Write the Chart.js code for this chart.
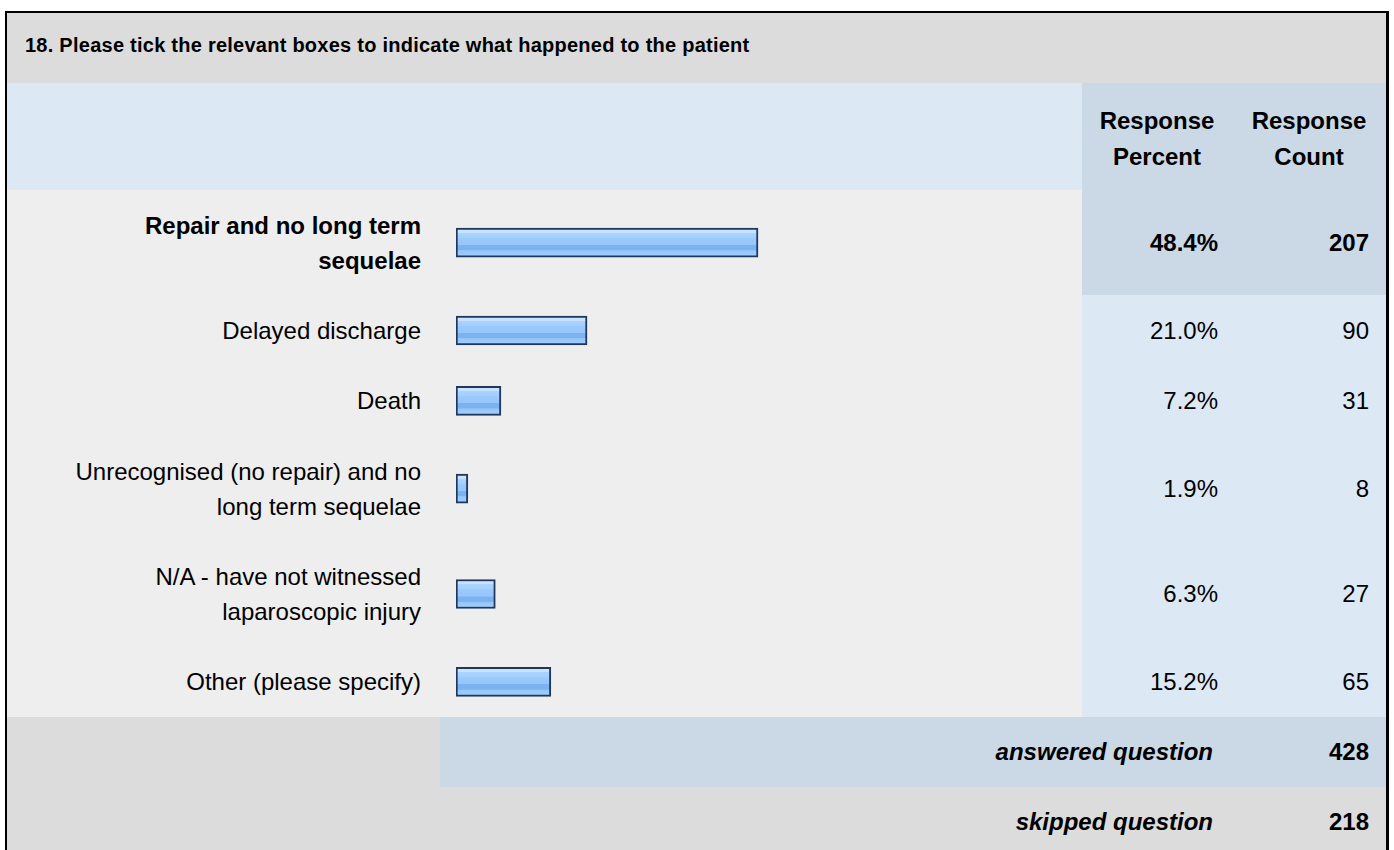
<!DOCTYPE html>
<html>
<head>
<meta charset="utf-8">
<title>18. Please tick the relevant boxes</title>
<script src="https://cdn.jsdelivr.net/npm/chart.js@4.4.1/dist/chart.umd.min.js"></script>
<style>
  html, body { margin: 0; padding: 0; background: #fff; }
  body { width: 1394px; height: 850px; overflow: hidden; font-family: "Liberation Sans", Arial, sans-serif; color: #000; position: relative; }
  #frame { position: absolute; left: 5px; top: 11px; width: 1379px; height: 900px; border: 2px solid #000; border-right-width: 3px; background: #eee; }
  .band { position: absolute; left: 0; width: 1379px; }
  #title { top: 0; height: 70px; background: #dcdcdc; font-weight: bold; font-size: 20px; letter-spacing: 0.25px; line-height: 64px; padding-left: 18px; box-sizing: border-box; }
  .cell { position: absolute; top: 0; height: 100%; box-sizing: border-box; display: flex; align-items: center; font-size: 24px; line-height: 35px; }
  .lbl { left: 0; width: 433px; justify-content: flex-end; text-align: right; padding-right: 19px; }
  .pct { left: 1075px; width: 150px; justify-content: flex-end; text-align: right; padding-right: 14px; }
  .cnt { left: 1225px; width: 154px; justify-content: flex-end; text-align: right; padding-right: 17px; }
  .hd { justify-content: center; text-align: center; padding: 4px 0 0 0; font-weight: bold; line-height: 36px; }
  .blue { background: #dde8f5; }
  .dark { background: #cbd8e6; }
  .grey { background: #dcdcdc; }
  .bold { font-weight: bold; }
  .sum { font-weight: bold; }
  .sum .tot { font-style: italic; left: 433px; width: 792px; padding-right: 19px; justify-content: flex-end; }
  #bars { position: absolute; left: 433px; }
</style>
</head>
<body>
<div id="frame">
  <div id="title" class="band">18. Please tick the relevant boxes to indicate what happened to the patient</div>
  <div id="head" class="band" style="top:70px;height:107px;">
    <div class="cell blue" style="left:0;width:1075px;"></div>
    <div class="cell dark hd" style="left:1075px;width:150px;">Response<br>Percent</div>
    <div class="cell dark hd" style="left:1225px;width:154px;">Response<br>Count</div>
  </div>
  <div id="rows"></div>
  <canvas id="bars"></canvas>
</div>

<script>
// answer options, each one split into its printed lines
const answers = [
  ["Repair and no long term", "sequelae"],
  ["Delayed discharge"],
  ["Death"],
  ["Unrecognised (no repair) and no", "long term sequelae"],
  ["N/A - have not witnessed", "laparoscopic injury"],
  ["Other (please specify)"]
];
const percents = [48.4, 21.0, 7.2, 1.9, 6.3, 15.2];
const counts = [207, 90, 31, 8, 27, 65];
const answered = 428;
const skipped = 218;

const unit = 35.13;         // height of one text line slot
const headBottom = 177;     // top of the first answer row inside the frame

// each row takes one slot per line plus one slot of padding
const spans = answers.map(lines => lines.length + 1);
const totalSlots = spans.reduce((a, b) => a + b, 0);
const mids = [];
let acc = 0;
spans.forEach(s => { mids.push(acc + s / 2); acc += s; });

const topRow = counts.indexOf(Math.max(...counts));
const rowsEl = document.getElementById("rows");
let rowY = headBottom;
answers.forEach((lines, i) => {
  const h = spans[i] * unit;
  const row = document.createElement("div");
  row.className = "band";
  row.style.top = rowY + "px";
  row.style.height = h + "px";
  const hi = i === topRow;
  row.innerHTML =
    '<div class="cell lbl' + (hi ? ' bold' : '') + '">' + lines.join("<br>") + '</div>' +
    '<div class="cell pct ' + (hi ? 'dark bold' : 'blue') + '">' + percents[i].toFixed(1) + '%</div>' +
    '<div class="cell cnt ' + (hi ? 'dark bold' : 'blue') + '">' + counts[i] + '</div>';
  rowsEl.appendChild(row);
  rowY += h;
});

// totals
const ans = document.createElement("div");
ans.className = "band sum";
ans.style.top = rowY + "px";
ans.style.height = "70px";
ans.innerHTML =
  '<div class="cell grey" style="left:0;width:433px;"></div>' +
  '<div class="cell tot dark">answered question</div>' +
  '<div class="cell cnt dark">' + answered + '</div>';
rowsEl.appendChild(ans);
const skp = document.createElement("div");
skp.className = "band sum grey";
skp.style.top = (rowY + 70) + "px";
skp.style.height = "80px";
skp.innerHTML =
  '<div class="cell tot" style="height:70px;">skipped question</div>' +
  '<div class="cell cnt" style="height:70px;">' + skipped + '</div>';
rowsEl.appendChild(skp);

// bar chart sits over the middle column of the answer rows
const canvas = document.getElementById("bars");
canvas.width = 642;
canvas.height = Math.round(totalSlots * unit);
canvas.style.top = headBottom + "px";
canvas.style.width = canvas.width + "px";
canvas.style.height = canvas.height + "px";

const barThickness = 29;

function glossy(context) {
  const chart = context.chart;
  const ys = chart.scales.y;
  if (!ys || !context.raw) return "#9dcbfd";
  const mid = ys.getPixelForValue(context.raw.y);
  if (!isFinite(mid)) return "#9dcbfd";
  const g = chart.ctx.createLinearGradient(0, mid - barThickness / 2, 0, mid + barThickness / 2);
  g.addColorStop(0.00, "#c9e3ff");
  g.addColorStop(0.16, "#c9e3ff");
  g.addColorStop(0.17, "#abd3ff");
  g.addColorStop(0.33, "#a3cffe");
  g.addColorStop(0.34, "#9bcafc");
  g.addColorStop(0.58, "#96c6fa");
  g.addColorStop(0.59, "#7ab3f0");
  g.addColorStop(0.76, "#7ab3f0");
  g.addColorStop(0.77, "#93c5f8");
  g.addColorStop(1.00, "#a3d0ff");
  return g;
}

new Chart(canvas.getContext("2d"), {
  type: "bar",
  data: {
    datasets: [
      {
        data: percents.map((p, i) => ({ x: p, y: mids[i] })),
        barThickness: barThickness,
        backgroundColor: glossy,
        borderColor: "#1e375c",
        borderWidth: 2,
        borderSkipped: false,
      },
    ],
  },
  options: {
    indexAxis: "y",
    responsive: false,
    animation: false,
    devicePixelRatio: 1,
    layout: { padding: { left: 16, right: 2, top: 0, bottom: 0 } },
    scales: {
      x: { type: "linear", min: 0, max: 100, display: false },
      y: { type: "linear", min: 0, max: totalSlots, reverse: true, offset: false, display: false },
    },
    plugins: {
      legend: { display: false },
      tooltip: { enabled: false },
    },
  },
});
</script>
</body>
</html>
